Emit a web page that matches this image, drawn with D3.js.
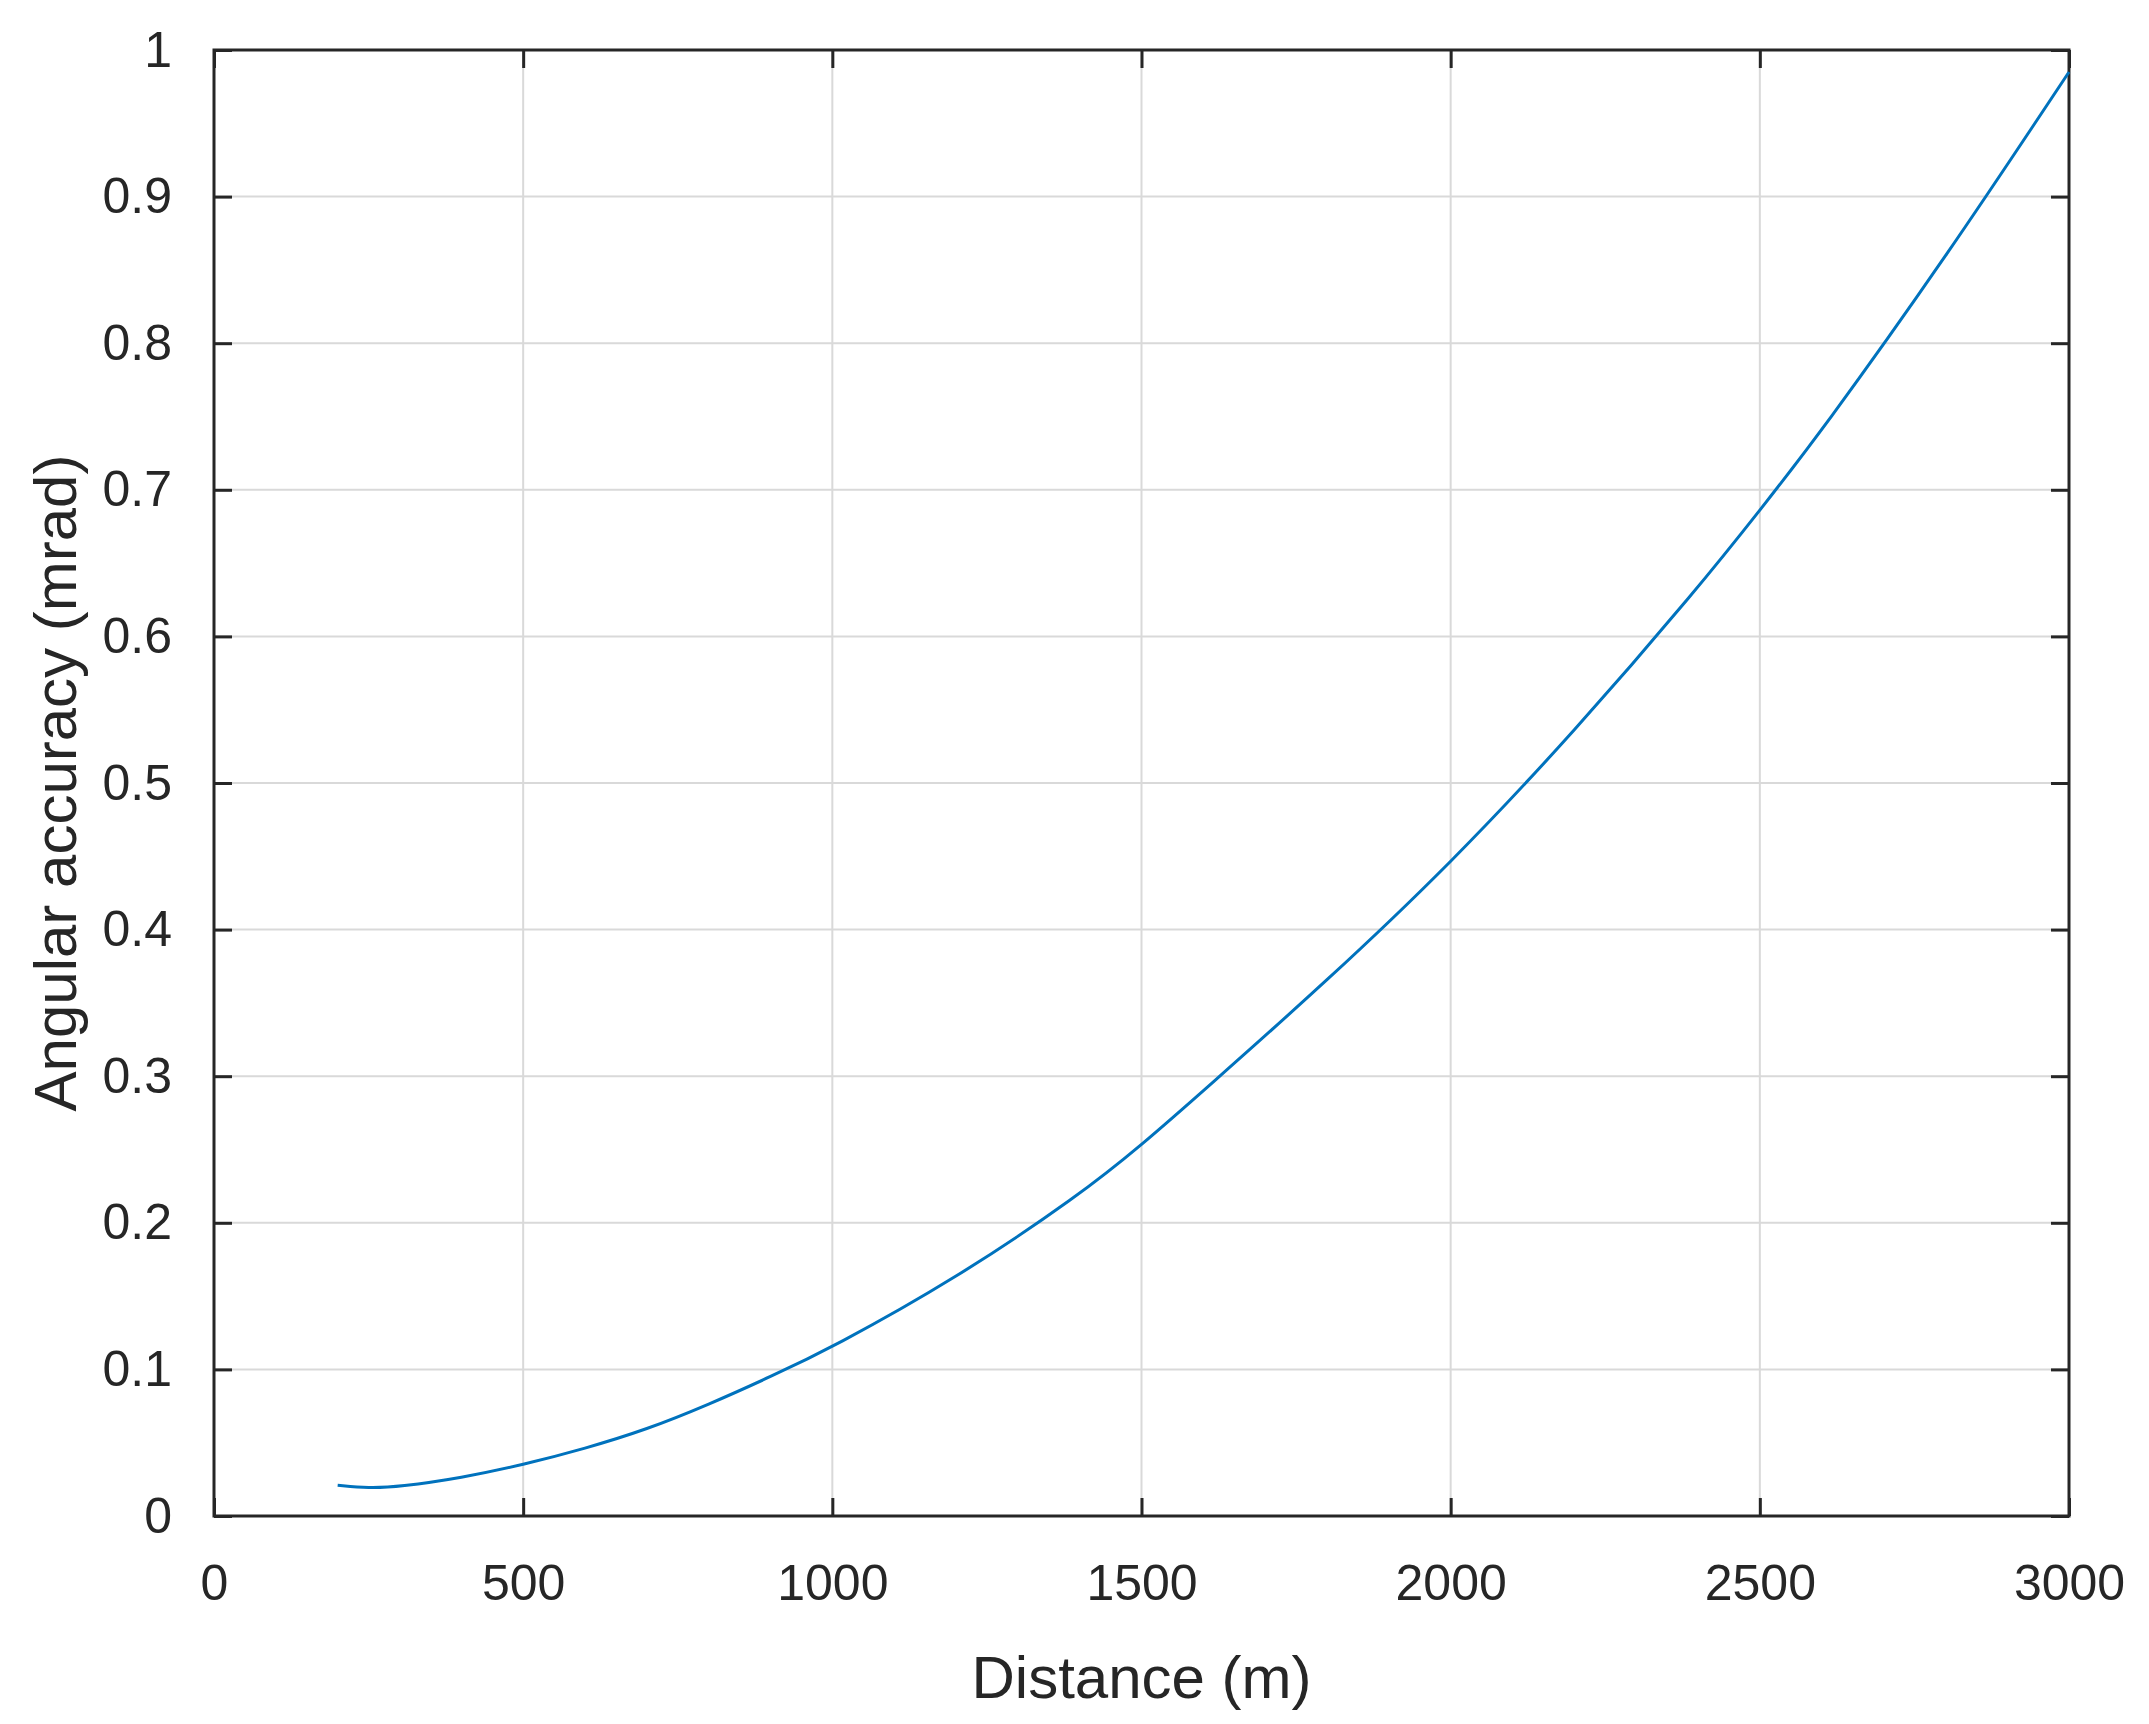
<!DOCTYPE html>
<html><head><meta charset="utf-8">
<script src="https://cdn.jsdelivr.net/npm/d3@7"></script>
<style>body{margin:0;background:#fff}text{font-family:"Liberation Sans",Arial,sans-serif;fill:#262626}</style>
</head><body>
<script>
var distance = [200,250,300,400,500,600,700,800,900,1000,1200,1400,1500,1600,1800,2000,2200,2400,2500,2600,2800,3000];
var accuracy = [0.021,0.019,0.020,0.026,0.035,0.046,0.059,0.076,0.095,0.115,0.162,0.219,0.253,0.29,0.365,0.445,0.535,0.633,0.686,0.74,0.858,0.985];
var xTicks = [0,500,1000,1500,2000,2500,3000];
var yTicks = [0,0.1,0.2,0.3,0.4,0.5,0.6,0.7,0.8,0.9,1];

var W = 2149, H = 1724;
var margin = {top:50, right:80, bottom:208, left:214};
var w = W - margin.left - margin.right, h = H - margin.top - margin.bottom;

var svg = d3.select("body").append("svg").attr("width", W).attr("height", H)
  .append("g").attr("transform", "translate(" + margin.left + "," + margin.top + ")");

var x = d3.scaleLinear().domain([0,3000]).range([0,w]);
var y = d3.scaleLinear().domain([0,1]).range([h,0]);

// grid
svg.selectAll(".gx").data(xTicks.slice(1,-1)).enter().append("line")
  .attr("x1", d => x(d)).attr("x2", d => x(d)).attr("y1", 0).attr("y2", h)
  .attr("stroke", "#d9d9d9").attr("stroke-width", 2);
svg.selectAll(".gy").data(yTicks.slice(1,-1)).enter().append("line")
  .attr("y1", d => y(d)).attr("y2", d => y(d)).attr("x1", 0).attr("x2", w)
  .attr("stroke", "#d9d9d9").attr("stroke-width", 2);

function style(g) {
  g.select(".domain").remove();
  g.selectAll("line").attr("stroke", "#262626").attr("stroke-width", 3);
  g.selectAll("text").style("font-size", "50px").attr("fill", "#262626");
}
svg.append("g").attr("transform", "translate(0," + h + ")")
  .call(d3.axisBottom(x).tickValues(xTicks).tickSize(-18).tickPadding(48).tickFormat(d3.format("d"))).call(style);
svg.append("g").call(d3.axisTop(x).tickValues(xTicks).tickSize(-18).tickFormat("")).call(style);
svg.append("g")
  .call(d3.axisLeft(y).tickValues(yTicks).tickSize(-18).tickPadding(42).tickFormat(d => d === 0 || d === 1 ? d : d3.format(".1f")(d))).call(style);
svg.append("g").attr("transform", "translate(" + w + ",0)")
  .call(d3.axisRight(y).tickValues(yTicks).tickSize(-18).tickFormat("")).call(style);

svg.append("rect").attr("width", w).attr("height", h).attr("fill", "none")
  .attr("stroke", "#262626").attr("stroke-width", 3);

svg.append("path").datum(distance.map((d, i) => [d, accuracy[i]]))
  .attr("fill", "none").attr("stroke", "#0072BD").attr("stroke-width", 3)
  .attr("d", d3.line().x(d => x(d[0])).y(d => y(d[1])).curve(d3.curveBasis));

svg.append("text").attr("x", w / 2).attr("y", h + 182).attr("text-anchor", "middle")
  .style("font-size", "60px").text("Distance (m)");
svg.append("text").attr("transform", "translate(-138," + h / 2 + ") rotate(-90)")
  .attr("text-anchor", "middle").style("font-size", "60px").text("Angular accuracy (mrad)");
</script>
</body></html>
